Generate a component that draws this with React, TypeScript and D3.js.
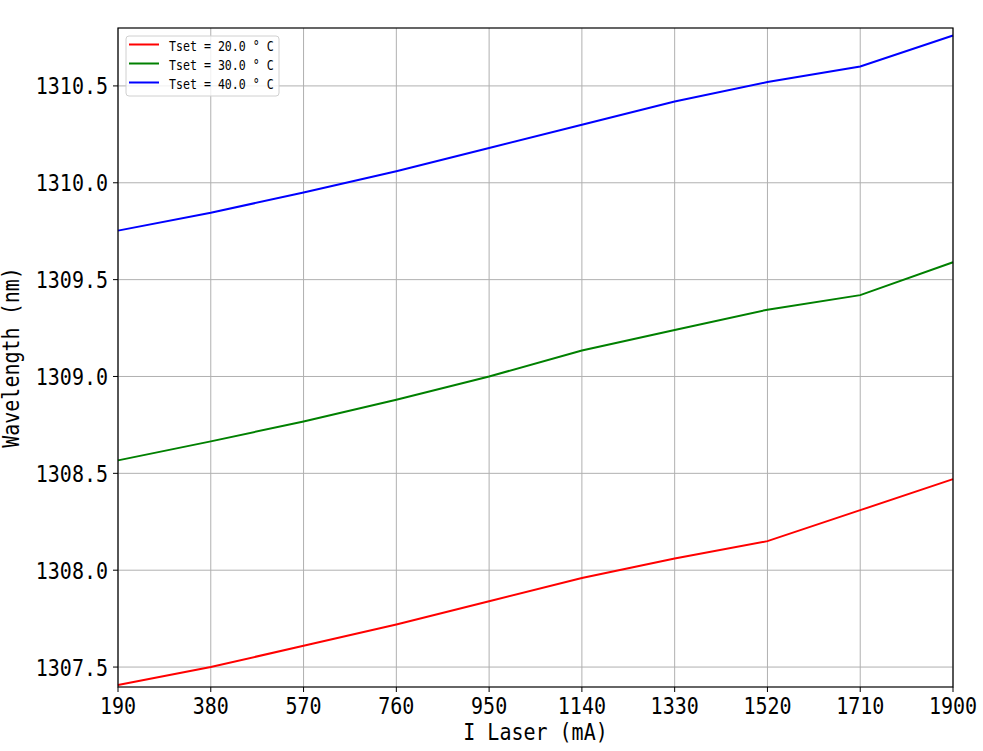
import React from "react";
import * as d3 from "d3";

const currents = [190, 380, 570, 760, 950, 1140, 1330, 1520, 1710, 1900];
const wl20 = [1307.407, 1307.5, 1307.61, 1307.72, 1307.84, 1307.96, 1308.06, 1308.15, 1308.31, 1308.47];
const wl30 = [1308.567, 1308.665, 1308.768, 1308.88, 1309.0, 1309.134, 1309.24, 1309.345, 1309.42, 1309.59];
const wl40 = [1309.753, 1309.845, 1309.95, 1310.06, 1310.18, 1310.30, 1310.42, 1310.52, 1310.60, 1310.76];
const seriesNames = ["Tset = 20.0 ° C", "Tset = 30.0 ° C", "Tset = 40.0 ° C"];
const seriesColors = ["#ff0000", "#008000", "#0000ff"];
const yTicks = [1307.5, 1308.0, 1308.5, 1309.0, 1309.5, 1310.0, 1310.5];

const W = 983, H = 751;
const L = 118, R = 953, T = 28, B = 687;
const FONT = "'DejaVu Sans Mono', 'Liberation Mono', monospace";
const SY = 1.15;

function T2(props: { x: number; y: number; size: number; anchor?: string; children: React.ReactNode; rotate?: number }) {
  const { x, y, size, anchor, children, rotate } = props;
  return (
    <g transform={`translate(${x},${y})${rotate ? ` rotate(${rotate})` : ""} scale(1,${SY})`}>
      <text x={0} y={0} textAnchor={anchor || "start"} fontSize={size} fontFamily={FONT} fill="#000">
        {children}
      </text>
    </g>
  );
}

export default function App() {
  const x = d3.scaleLinear().domain([190, 1900]).range([L, R]);
  const y = d3.scaleLinear().domain([1307.397, 1310.799]).range([B, T]);
  const all = [wl20, wl30, wl40];
  const line = d3.line<number>().x((_, i) => x(currents[i])).y((d) => y(d));
  const fmtY = (v: number) => v.toFixed(1);
  return (
    <svg width={W} height={H} style={{ position: "absolute", left: 0, top: 0, background: "#fff" }}>
      <rect x={0} y={0} width={W} height={H} fill="#fff" />
      {currents.map((c) => (
        <line key={"gx" + c} x1={x(c)} x2={x(c)} y1={T} y2={B} stroke="#b0b0b0" strokeWidth={1} />
      ))}
      {yTicks.map((v) => (
        <line key={"gy" + v} x1={L} x2={R} y1={y(v)} y2={y(v)} stroke="#b0b0b0" strokeWidth={1} />
      ))}
      {all.map((s, k) => (
        <path key={"s" + k} d={line(s) || ""} fill="none" stroke={seriesColors[k]} strokeWidth={2} />
      ))}
      <rect x={L} y={T} width={R - L} height={B - T} fill="none" stroke="#000" strokeWidth={1.2} />
      {currents.map((c) => (
        <g key={"tx" + c}>
          <line x1={x(c)} x2={x(c)} y1={B} y2={B + 5} stroke="#000" />
          <T2 x={x(c)} y={714} size={20} anchor="middle">{c}</T2>
        </g>
      ))}
      {yTicks.map((v) => (
        <g key={"ty" + v}>
          <line x1={L - 5} x2={L} y1={y(v)} y2={y(v)} stroke="#000" />
          <T2 x={L - 10} y={y(v) + 8.5} size={20} anchor="end">{fmtY(v)}</T2>
        </g>
      ))}
      <T2 x={(L + R) / 2} y={740} size={20} anchor="middle">I Laser (mA)</T2>
      <T2 x={19} y={(T + B) / 2} size={20} anchor="middle" rotate={-90}>Wavelength (nm)</T2>
      <rect x={126} y={36} width={153} height={60} fill="#fff" fillOpacity={0.8} stroke="#d0d0d0" rx={3} />
      {seriesNames.map((n, k) => (
        <g key={"lg" + k}>
          <line x1={129} x2={159} y1={44.5 + k * 19} y2={44.5 + k * 19} stroke={seriesColors[k]} strokeWidth={2} />
          <T2 x={169} y={51 + k * 19} size={11.6}>{n}</T2>
        </g>
      ))}
    </svg>
  );
}
